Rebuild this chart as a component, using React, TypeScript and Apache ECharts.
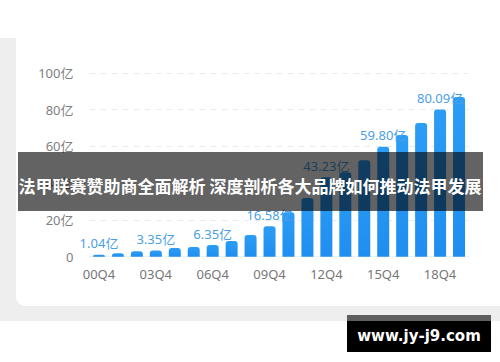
import React, { useEffect, useRef } from "react";
import * as echarts from "echarts";

const categories = [
  "00Q4", "01Q4", "02Q4", "03Q4", "04Q4", "05Q4", "06Q4", "07Q4", "08Q4", "09Q4",
  "10Q4", "11Q4", "12Q4", "13Q4", "14Q4", "15Q4", "16Q4", "17Q4", "18Q4", "19Q4",
];
const values = [
  1.04, 1.9, 2.9, 3.35, 4.8, 5.3, 6.35, 8.6, 11.8, 16.58,
  24.2, 32.0, 43.23, 46.0, 52.5, 59.8, 66.2, 72.8, 80.09, 87.0,
];
const labeledIndexes = [0, 3, 6, 9, 12, 15, 18];
const yTicks = { min: 0, max: 100, interval: 20 };
const bannerText = "法甲联赛赞助商全面解析 深度剖析各大品牌如何推动法甲发展";
const watermark = "www.jy-j9.com";

export default function App() {
  const ref = useRef<HTMLDivElement>(null);
  useEffect(() => {
    if (!ref.current) return;
    const chart = echarts.init(ref.current, undefined, { renderer: "svg" });
    chart.setOption({
      animation: false,
      backgroundColor: "#ffffff",
      textStyle: { fontFamily: "'Noto Sans', 'Noto Sans CJK SC', sans-serif" },
      grid: { left: 89.5, right: 31.5, top: 73, bottom: 105.3, containLabel: false },
      xAxis: {
        type: "category",
        data: categories,
        axisTick: { show: false },
        axisLine: { show: true, lineStyle: { color: "#f0f0f0" } },
        axisLabel: {
          interval: 2,
          color: "#777777",
          fontSize: 13,
          margin: 11,
          fontFamily: "'Noto Sans', 'Noto Sans CJK SC', sans-serif",
        },
      },
      yAxis: {
        type: "value",
        min: yTicks.min,
        max: yTicks.max,
        interval: yTicks.interval,
        axisLine: { show: false },
        axisTick: { show: false },
        splitLine: { show: true, lineStyle: { color: "#ebebeb", type: [6, 5] } },
        axisLabel: {
          color: "#808080",
          fontSize: 13,
          margin: 16,
          fontFamily: "'Noto Sans', 'Noto Sans CJK SC', sans-serif",
          formatter: (v: number) => (v === 0 ? "0" : v + "亿"),
        },
      },
      series: [
        {
          type: "bar",
          data: values,
          barWidth: 12,
          itemStyle: {
            borderRadius: [3, 3, 0, 0],
            color: new echarts.graphic.LinearGradient(0, 0, 0, 1, [
              { offset: 0, color: "#2c9df5" },
              { offset: 1, color: "#1f8ef0" },
            ]),
          },
          label: {
            show: true,
            position: "top",
            distance: 5,
            color: "#4a9fe6",
            fontSize: 13,
            fontFamily: "'Noto Sans', 'Noto Sans CJK SC', sans-serif",
            formatter: (p: any) =>
              labeledIndexes.includes(p.dataIndex) ? p.value.toFixed(2) + "亿" : "",
          },
        },
      ],
      graphic: [
        {
          type: "rect",
          z: -10,
          silent: true,
          shape: { x: 0, y: 38, width: 500, height: 283 },
          style: { fill: "#eeeeee" },
        },
        {
          type: "rect",
          z: -9,
          silent: true,
          shape: { x: 16, y: 38, width: 500, height: 268, r: [0, 0, 0, 9] },
          style: { fill: "#ffffff" },
        },
        {
          type: "rect",
          z: 100,
          silent: true,
          shape: { x: 18, y: 152, width: 465, height: 59 },
          style: { fill: "rgba(0,0,0,0.61)" },
        },
        {
          type: "text",
          z: 101,
          silent: true,
          x: 250,
          y: 185,
          style: {
            text: bannerText,
            fill: "#ffffff",
            font: "bold 17px 'Noto Sans CJK SC', sans-serif",
            align: "center",
            verticalAlign: "middle",
          },
        },
        {
          type: "rect",
          z: 100,
          silent: true,
          shape: { x: 347, y: 315, width: 144, height: 6 },
          style: { fill: "#5f5f5f" },
        },
        {
          type: "rect",
          z: 100,
          silent: true,
          shape: { x: 347, y: 321, width: 144, height: 31 },
          style: { fill: "#000000" },
        },
        {
          type: "text",
          z: 101,
          silent: true,
          x: 419,
          y: 336,
          style: {
            text: watermark,
            fill: "#ffffff",
            font: "bold 15px 'DejaVu Sans', sans-serif",
            align: "center",
            verticalAlign: "middle",
          },
        },
      ],
    });
    return () => chart.dispose();
  }, []);
  return (
    <div
      ref={ref}
      style={{ position: "fixed", left: 0, top: 0, width: 500, height: 362 }}
    />
  );
}
